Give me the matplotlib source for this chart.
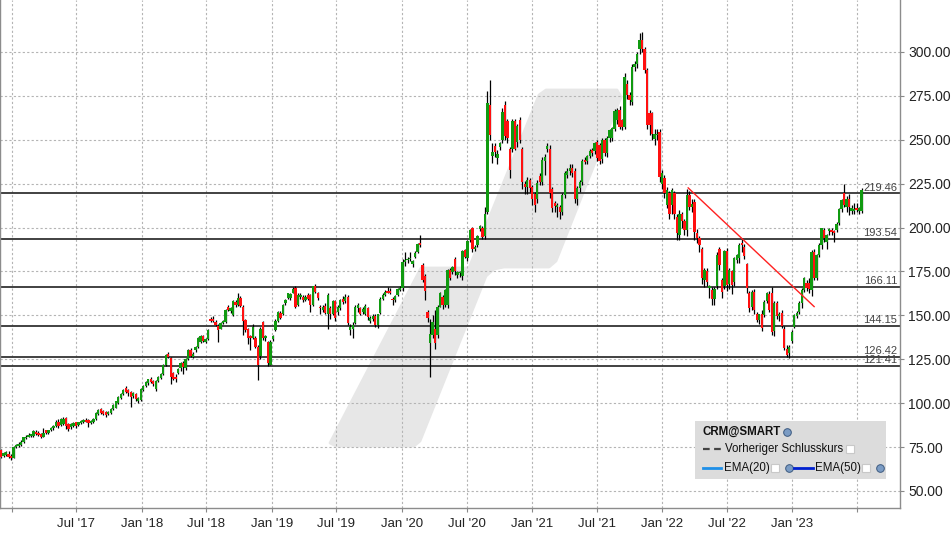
import matplotlib
matplotlib.use("Agg")
import matplotlib.pyplot as plt
import numpy as np
import pandas as pd
from matplotlib.patches import Polygon, Rectangle

plt.rcParams["font.family"] = ["Liberation Sans Narrow", "Liberation Sans", "DejaVu Sans"]

# weekly CRM candles, first week ending 2016-12-02
START = "2016-12-02"
opens = [
    73.5, 70, 70.5, 71, 70, 69, 75, 75.5, 76, 78, 80, 81, 81.5, 81.5, 83.5, 83, 82.5, 81, 84.5, 83,
    84.5, 86, 87, 89.5, 87.5, 88, 91.5, 88, 86.5, 87, 89, 87.5, 88.5, 89, 90.5, 90.5, 88.5, 89, 91, 94,
    96.5, 95.5, 95, 94, 94.5, 96.5, 97.5, 100, 103, 105, 108.5, 107.5, 106.5, 104, 105.5, 101, 102, 107.5, 110, 111.5,
    114, 112.5, 108, 112.5, 114.5, 116.5, 121.5, 128, 125.5, 117, 115, 117, 120, 123, 120, 125, 130.5, 126.5, 130, 132,
    135, 138, 135, 136.5, 148, 148, 146.5, 144, 142.5, 145.5, 146, 155, 152.5, 150, 157.5, 156, 160, 155, 147.5, 142,
    138.5, 137, 137, 132, 127, 146, 137, 135, 122, 136.5, 141.5, 147, 151.5, 151, 157, 160,
    160, 163, 165.5, 156, 160.5, 160.5, 158.5, 161.5, 161.5, 156, 167, 163, 155, 153, 155.5, 151, 154, 151, 158, 152,
    154, 159.5, 158, 160.5, 141.5, 142.5, 145.5, 154, 154, 152, 151, 154, 147, 148, 149.5, 144.5, 151.5, 159.5, 161.5, 164,
    164, 159.5, 158.5, 161.5, 164.5, 165.5, 180.5, 181.5, 182, 179, 183, 186, 191, 178.5, 172.5, 152, 134, 139, 142.5, 139,
    155, 160.5, 156, 156, 176, 174.5, 182, 173, 174, 172.5, 187, 182.5, 193, 199.5, 188, 190, 199, 200, 195, 209,
    270, 241, 246.5, 239.5, 246, 250, 270, 260.5, 245, 245, 260.5, 249, 261.5, 245, 225, 223, 227, 223, 219, 216,
    229.5, 226, 238, 244.5, 245, 222, 214, 212, 211.5, 209, 218.5, 230, 232, 234, 232.5, 216.5, 222.5, 226, 238.5, 238,
    240.5, 244, 243.5, 248.5, 247, 239, 250, 242.5, 251, 251, 256, 261, 267, 261, 257, 282, 275.5, 271.5, 291.5, 293,
    301.5, 307, 301.5, 289.5, 265.5, 265.5, 250.5, 252.5, 254.5, 225, 228, 213, 219.5, 213, 219.5, 206, 196, 208, 203.5, 198.5,
    218.5, 211.5, 214.5, 197, 194, 188, 170, 175, 165.5, 164.5, 159.5, 166.5, 188, 170, 166.5, 186.5, 168, 175, 169, 181.5,
    182.5, 191, 189, 179.5, 162.5, 155, 163.5, 151, 147.5, 150.8, 150, 158, 162, 162.6, 141, 157, 149.5, 151.5, 142.5, 130.6,
    128.3, 135.6, 143.6, 149.7, 152, 156.9, 164.5, 168.3, 168.3, 164.5, 186.3, 171.1, 184.4, 190.1, 198.7, 191.5, 197.8, 198.7, 197.8, 198.7,
    202.5, 210.5, 219.6, 211.6, 216.2, 209.2, 209.2, 211, 209.5, 209.2,
]
closes = [
    69.5, 71.5, 72, 69.5, 69, 75, 76, 77, 78, 80.5, 81, 82, 82, 84, 82.5, 82, 81, 83, 83, 84.5,
    86, 87, 89.5, 87, 91, 91, 87, 85.5, 88, 88.5, 87, 89, 90, 90.5, 89.5, 88.5, 90, 91, 94.5, 96,
    94.5, 94, 93.5, 95, 96.5, 99, 101, 103.5, 105.5, 107.5, 106.5, 106, 103.5, 106, 102.5, 103, 108, 110, 112, 113.5,
    112, 111, 112.5, 115, 116.5, 122, 127.5, 126.5, 115, 114, 113.5, 119.5, 123, 120.5, 125, 130.5, 127, 128, 132, 137,
    138.5, 135.5, 136.5, 141.5, 147, 147, 144.5, 141.5, 145.5, 147, 153, 153, 154, 158, 156, 160, 155.5, 147, 141.5, 137,
    137, 143.5, 132, 122, 142.5, 137, 138.5, 123, 135, 138.5, 147, 152, 148.5, 156, 159, 162.5,
    162, 165, 155, 161.5, 161.5, 158.5, 160.5, 159.5, 156, 166.5, 163.5, 160, 154, 155, 151.5, 161.5, 150.5, 158, 148.5, 155,
    158.5, 157.5, 160.5, 145.5, 143.5, 144.5, 155, 156, 151, 153.5, 155.5, 149, 148.5, 149.5, 144.5, 150.5, 159.5, 161.5, 163.5, 163,
    163, 158.5, 161, 165, 165.5, 180.5, 181.5, 182, 182.5, 181, 185.5, 190.5, 190, 170, 164, 148.5, 139.5, 146.5, 134.5, 155,
    162.5, 156, 164.5, 176, 171.5, 177.5, 175, 174.5, 174.5, 186.5, 183.5, 192.5, 198.5, 188, 189, 195, 201, 194.5, 207.5, 271,
    253, 243, 243, 242, 248, 266, 252, 251, 233, 260.5, 245, 258, 250, 226, 223, 227, 222.5, 216.5, 213, 225.5,
    226, 238.5, 240, 246.5, 219.5, 211, 212.5, 212.5, 209, 218.5, 231, 232, 234, 231, 216.5, 222.5, 226, 238, 237.5, 240.5,
    243.5, 242.5, 248, 239.5, 238, 250, 242.5, 251, 255.5, 256.5, 266.5, 267, 257.5, 257, 286, 275.5, 272.5, 291.5, 293, 299,
    307, 301.5, 289.5, 258.5, 258.5, 253.5, 253.5, 253.5, 229, 231, 219.5, 221.5, 208, 221.5, 208, 197, 208, 203.5, 198.5, 218.5,
    212, 213.5, 197.5, 194, 190, 171, 176, 169, 166.5, 159.5, 165, 184.5, 178.5, 163.5, 186.5, 167.5, 176, 167.5, 182.5, 184.5,
    190, 190, 184, 165.5, 154, 163.5, 153, 147.5, 150.5, 142.6, 157.8, 162.6, 153, 140.5, 157.3, 149.5, 150.5, 144, 131.2, 127.4,
    132.1, 140.7, 150.2, 151.6, 156.9, 164.5, 171.1, 165.4, 164.9, 186.3, 171.1, 184.4, 190.1, 199.6, 193.9, 195.8, 199, 197.2, 196.8, 202.1,
    210.5, 215.8, 213, 216.2, 212, 211, 210.5, 210, 211, 221.4,
]
highs = [
    74, 72, 72.5, 72.5, 71, 75.5, 77, 78, 79, 81, 82, 83, 82.5, 84.5, 84.5, 84, 83, 86, 85, 85,
    86.5, 87.5, 90.5, 91, 91.5, 92, 92, 88.5, 88.5, 89, 89.5, 89.5, 90.5, 91, 91.5, 91, 90.5, 91.5, 95, 96.5,
    97, 96, 95.5, 95.5, 97, 99.5, 101.5, 104, 106, 108, 109.5, 108, 107, 106.5, 106, 103.5, 108.5, 110.5, 112.5, 114,
    115, 113, 113, 115.5, 117, 122.5, 128, 129, 126.5, 118, 116.5, 120, 123.5, 124, 125.5, 131, 131.5, 129, 132.5, 137.5,
    139, 139, 137, 142, 149, 149.5, 147.5, 145, 146, 147.5, 153.5, 156, 155, 158.5, 158.5, 162.5, 161, 156, 148, 143,
    139, 145, 138, 133, 143.5, 147, 139, 135.5, 136, 139, 148, 152.5, 152.5, 156.5, 159.5, 163,
    162.5, 166, 167, 162.5, 163, 161.5, 161.5, 163, 162, 167, 168, 163.5, 156, 156, 157, 162.5, 155.5, 158.5, 159, 156,
    159.5, 161, 162, 161.5, 145, 146, 156, 157, 155, 154.5, 156.5, 155, 149.5, 150.5, 151, 151, 160.5, 162.5, 164.5, 166,
    165.5, 160.5, 161.5, 165.5, 166.5, 182, 186, 183, 186, 181.5, 186.5, 191, 196, 180, 173.5, 153, 148, 150, 153, 156,
    163.5, 161.5, 165, 176.5, 177, 178, 183, 175, 175, 187.5, 188, 193, 199, 200.5, 190, 196, 201.5, 201, 212, 278,
    284, 248, 248, 244, 249, 268, 272, 262, 246, 262, 262, 259, 263, 246, 226.5, 229, 228, 224, 220, 227,
    231, 240, 242, 248, 247, 223, 215, 214, 213, 219.5, 232, 234, 236, 236, 234, 223.5, 227, 239, 240, 241.5,
    244.5, 245.5, 249, 250, 248, 251, 251, 252, 256, 257.5, 267.5, 268, 269, 262, 288, 284, 277, 293, 295, 300,
    311, 311.5, 303, 291, 267, 266, 256, 256, 256, 233, 230, 223, 221, 222.5, 221, 208, 210, 209, 205, 222,
    221, 216, 216, 199, 195, 189, 177, 177, 167.5, 166, 166, 186, 189, 171.5, 187, 188.5, 177, 176, 183, 185,
    191, 194, 190.5, 180, 164, 164.5, 165, 152, 151, 153, 158.5, 163.5, 164, 166, 158, 158, 152, 153, 144, 133,
    133, 141.5, 151, 152.5, 158, 165.5, 172, 170, 171, 187, 188, 185, 191, 200, 200, 196.5, 200, 199.5, 198.5, 203,
    211, 216.5, 225, 218, 219, 213, 214, 214, 212, 222.5,
]
lows = [
    69, 69.5, 70, 68.5, 67.5, 68.5, 74.5, 75, 75.5, 77.5, 79.5, 80.5, 80.5, 81, 82, 81.5, 80, 80.5, 82.5, 82.5,
    84, 85, 86.5, 86, 87, 87.5, 85.5, 84, 85.5, 86.5, 86, 87, 88, 88.5, 89, 86.5, 88, 88.5, 90.5, 93.5,
    94, 93, 92, 93.5, 94, 96, 97, 99.5, 102.5, 104.5, 106, 104, 98, 103, 101, 100, 101.5, 107, 109, 110.5,
    111.5, 110, 107, 112, 114, 116, 121, 125.5, 111, 113, 112, 116.5, 118.5, 116.5, 119, 124.5, 126.5, 126, 129, 131.5,
    134.5, 135, 134, 136, 146.5, 146.5, 144, 135, 142, 145, 145.5, 152.5, 151.5, 149.5, 155, 155.5, 154.5, 139, 140.5, 133.5,
    130, 136.5, 131.5, 113, 125, 136, 135.5, 121, 121.5, 135.5, 141, 146.5, 148, 150, 156, 159.5,
    159, 162.5, 154, 155.5, 159.5, 157.5, 158, 159, 152, 155.5, 162.5, 159, 151, 152, 150.5, 142, 148, 150, 147, 150,
    153, 156.5, 157, 144.5, 139, 137, 145, 152, 150, 151, 150, 147.5, 145.5, 147, 143.5, 143, 151, 159, 161, 162.5,
    162, 156, 157.5, 161, 164, 164, 178, 180, 181, 177.5, 182.5, 185.5, 189, 169, 159, 146, 115, 137, 131, 137,
    154.5, 153.5, 155, 154, 170, 173.5, 173, 171.5, 172, 170, 182.5, 181, 192, 186, 186.5, 189, 198, 193.5, 193.5, 208,
    250, 237, 240, 236, 244, 248, 250, 248, 228, 243, 244, 246, 248, 222, 219, 219, 220, 213, 209, 214,
    224, 224, 230, 243, 217, 209, 209, 206, 205, 207, 217, 228, 230, 229, 214, 213, 220, 224, 236, 236,
    239.5, 241, 242, 238, 236, 237, 241, 240, 249, 249.5, 255, 259, 256, 255.5, 256, 273, 270, 270, 289, 291,
    299, 300, 288, 256, 253, 250, 247, 250, 226, 222, 217, 211, 205, 208, 205, 193, 193, 200, 196, 195,
    210, 209, 193, 191, 186, 168, 166, 167, 160, 156, 156, 165, 176, 160, 165, 164, 165, 162, 167, 180,
    180, 186, 182, 163, 152, 153, 151, 146, 145, 141, 149, 157, 152, 139, 138, 148, 147, 143, 130, 126.5,
    125.5, 134, 143, 148.5, 151, 154, 163.5, 164, 163, 161, 170, 170, 183, 188, 192, 188, 196, 195.5, 192, 197.5,
    201.5, 209, 212, 209, 207, 208, 207.5, 209, 207.5, 208.5,
]

levels = [219.46, 193.54, 166.11, 144.15, 126.42, 121.41]

# hand-drawn trend line (week index, price)
trend_weeks = [275.5, 326.0]
trend_prices = [222.6, 155.0]

y_ticks = [50, 75, 100, 125, 150, 175, 200, 225, 250, 275, 300]
x_grid = pd.date_range("2017-01-01", "2023-07-01", freq="6MS")

GREEN = "#109a10"
RED = "#ff1010"

W, H = 953, 536
AX_W, AX_H = 900, 508

fig = plt.figure(figsize=(W / 100, H / 100), dpi=100)
ax = fig.add_axes([0, 1 - AX_H / H, AX_W / W, AX_H / H])


def px(x, y):
    """pixel coords in the axes box -> axes fraction"""
    return x / AX_W, 1 - y / AX_H


dates = pd.date_range(START, periods=len(closes), freq="7D")
o = np.array(opens); c = np.array(closes)
hi = np.array(highs); lo = np.array(lows)
up = c >= o
body_lo = np.minimum(o, c)
body_h = np.maximum(np.abs(c - o), 0.8)

# background logo
logo = [(330, 443), (336, 446), (414, 446), (420, 441), (486, 276), (494, 269), (504, 267),
        (549, 267), (556, 261), (621, 97), (617, 90), (546, 90), (539, 95), (469, 268),
        (421, 268), (330, 443)]
ax.add_patch(Polygon([px(*p) for p in logo], closed=True, transform=ax.transAxes,
                     facecolor="#e7e7e7", edgecolor="#e7e7e7", lw=2, joinstyle="round", zorder=0.1))

ax.set_axisbelow(True)
ax.grid(True, color="#b4b4b4", ls=(0, (2, 2)), lw=0.8)

for lv in levels:
    ax.axhline(lv, color="#333333", lw=1.3, zorder=1.5)
    ax.text(0.997, lv + 0.4, f"{lv:.2f}", transform=ax.get_yaxis_transform(),
            ha="right", va="bottom", fontsize=8, color="#444444", zorder=4)

ax.vlines(dates, lo, hi, color="black", lw=0.9, zorder=2)
ax.bar(dates, body_h, bottom=body_lo, width=6.5,
       color=[GREEN if u else RED for u in up], lw=0, zorder=3)

t0 = pd.Timestamp(START)
ax.plot([t0 + pd.Timedelta(weeks=w) for w in trend_weeks], trend_prices,
        color="#ff2020", lw=1.0, zorder=4)

ax.set_xlim(pd.Timestamp("2016-11-29"), pd.Timestamp("2023-10-30"))
ax.set_ylim(40.3, 329.6)

ax.yaxis.tick_right()
ax.set_yticks(y_ticks)
ax.set_yticklabels([f"{v:.2f}" for v in y_ticks], fontsize=10, color="#222222")
ax.tick_params(axis="y", length=3, color="#888888", pad=3)

ax.set_xticks(x_grid)
xlabels = [d.strftime("%b '%y") for d in x_grid]
xlabels[0] = ""
xlabels[-1] = ""
ax.set_xticklabels(xlabels, fontsize=9.5, color="#222222")
ax.tick_params(axis="x", length=3, color="#888888", pad=4)

ax.spines["top"].set_visible(False)
for side in ["left", "right", "bottom"]:
    ax.spines[side].set_color("#8c8c8c")
    ax.spines[side].set_linewidth(1.0)

# legend box
bx0, by0 = px(695, 479)
bx1, by1 = px(886, 421)
ax.add_patch(Rectangle((bx0, by0), bx1 - bx0, by1 - by0, transform=ax.transAxes,
                       facecolor="#dcdcdc", edgecolor="none", zorder=5))


def legend_text(x, y, s, size=8.3, **kw):
    ax.text(*px(x, y), s, transform=ax.transAxes, va="center", ha="left",
            fontsize=size, color="#111111", zorder=6, **kw)


def legend_line(x0, x1, y, **kw):
    (a, b), (c2, _) = px(x0, y), px(x1, y)
    ax.plot([a, c2], [b, b], transform=ax.transAxes, zorder=6, **kw)


def checkbox(x, y):
    ax.plot(*px(x, y), marker="s", ms=5.5, mfc="white", mec="#c8c8c8",
            mew=0.8, transform=ax.transAxes, zorder=6)


def icon(x, y):
    ax.plot(*px(x, y), marker="o", ms=5.5, mfc="#7b9cc4", mec="#3c5a80",
            mew=0.7, transform=ax.transAxes, zorder=6)


legend_text(703, 432, "CRM@SMART", size=8.3, fontweight="bold")
icon(787, 432)
legend_line(703, 722, 449, color="#444444", lw=1.6, ls=(0, (3, 2)))
legend_text(725, 449, "Vorheriger Schlusskurs")
checkbox(850, 449)
legend_line(703, 721, 468, color="#1e8fe8", lw=2)
legend_text(724, 468, "EMA(20)")
checkbox(775, 468)
icon(789, 468)
legend_line(794, 813, 468, color="#0020d0", lw=2)
legend_text(815, 468, "EMA(50)")
checkbox(866, 468)
icon(880, 468)

fig.savefig("out.png", dpi=100)
